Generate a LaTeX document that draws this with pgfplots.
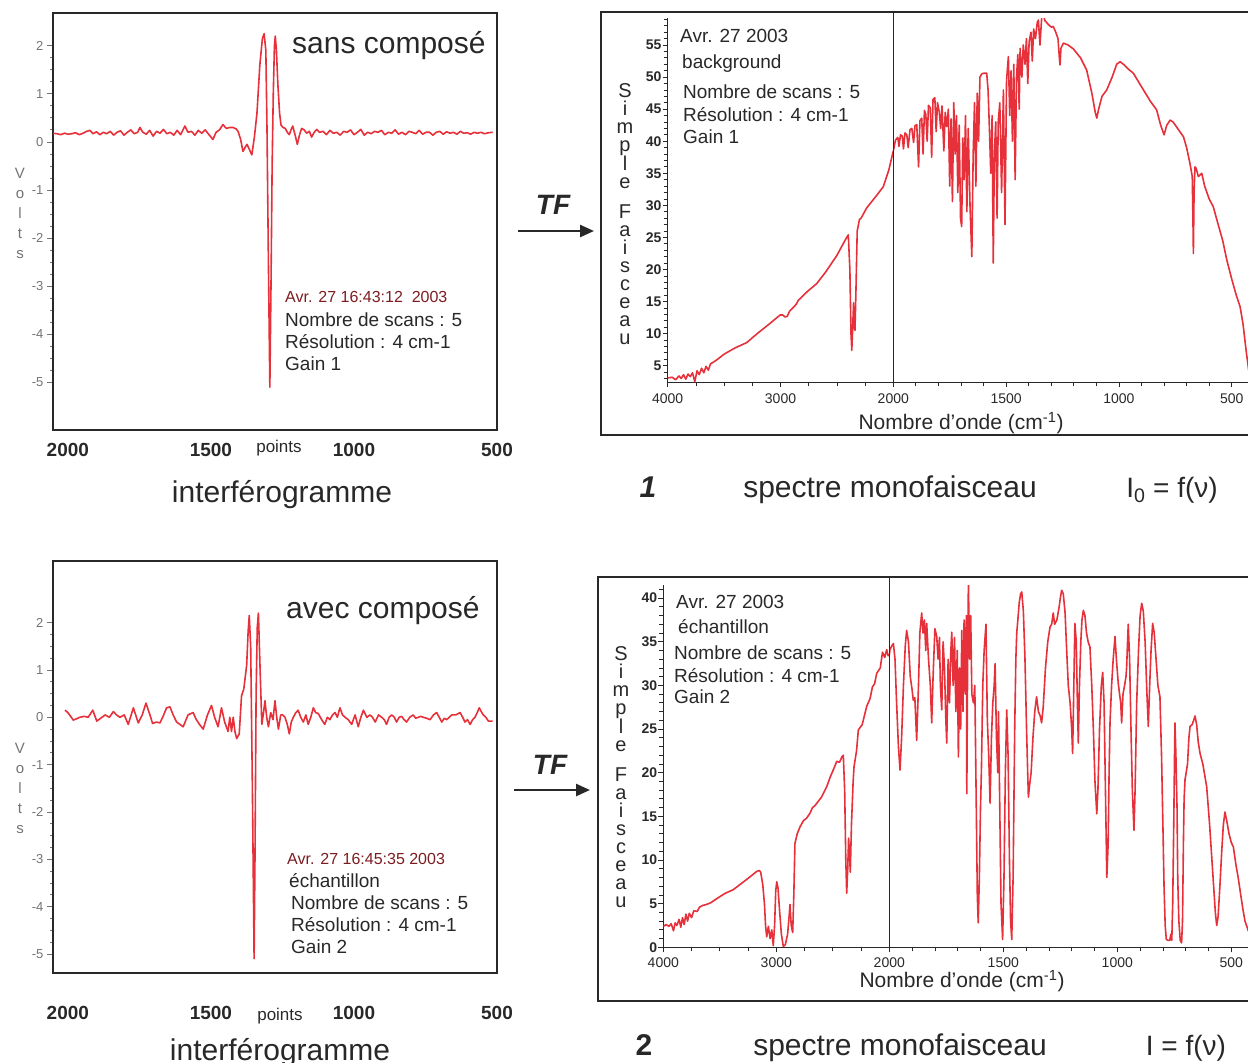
\documentclass[border=0pt]{standalone}
\usepackage{fontspec}
\setmainfont{Liberation Sans}
\usepackage{pgfplots}
\pgfplotsset{compat=1.18}
\usetikzlibrary{arrows.meta}

\definecolor{curve}{RGB}{230,48,58}
\definecolor{ink}{RGB}{40,40,40}
\definecolor{datered}{RGB}{125,28,32}
\definecolor{axgray}{RGB}{115,115,115}
\newcommand\fs[2]{\fontsize{#1}{#2}\selectfont}

\pgfplotsset{
  common/.style={scale only axis, anchor=south west, x dir=reverse, enlargelimits=false,
    /pgf/number format/1000 sep={}, /pgf/number format/assume math mode=true},
  interf/.style={common, width=444pt, xmin=500, xmax=2052,
    axis line style={line width=1.3pt, ink}, tick pos=left,
    xtick={2000,1500,1000,500}, xtick style={draw=none},
    xticklabel style={font=\bfseries\fs{19}{19}, text=ink},
    ytick={-5,...,2}, minor y tick num=3, tick align=outside,
    major tick length=6pt, minor tick length=3pt,
    y tick style={axgray, line width=0.8pt},
    yticklabel style={font=\fs{13}{13}, text=axgray}},
  spec/.style={common, axis x line=bottom, axis y line=left,
    axis line style={-, line width=1pt, ink}, tick align=outside,
    major tick length=5pt, minor tick length=4pt, tick style={ink, line width=0.8pt},
    xticklabel style={font=\fs{14}{14}, text=ink, yshift=-3pt},
    yticklabel style={font=\bfseries\fs{14}{14}, text=ink, inner sep=1pt}},
  specright/.style={spec, axis y line=none, xmin=400, xmax=2000,
    xtick={500,1000,1500}, minor xtick={400,600,700,800,900,1100,1200,1300,1400,1600,1700,1800,1900,2000}},
  specleft/.style={spec, xmin=2000, xmax=4000, xtick={2000,3000,4000},
    minor xtick={2250,2500,2750,3250,3500,3750}},
  sig/.style={curve, line width=1.6pt, line join=round}
}

\begin{document}
\begin{tikzpicture}

% ---------- interferogramme sans compose ----------
\begin{axis}[interf, at={(53pt,-430pt)}, height=417pt, ymin=-5.99, ymax=2.68,
  xticklabel style={yshift=-4pt}]
\addplot[sig] coordinates {
(2051,0.18)(2038,0.17)(2025,0.15)(2012,0.18)(1999,0.16)(1986,0.17)(1973,0.19)(1960,0.15)
(1947,0.18)(1934,0.22)(1923,0.24)(1912,0.17)(1900,0.21)(1888,0.15)(1876,0.2)(1864,0.17)
(1852,0.22)(1840,0.14)(1828,0.2)(1816,0.23)(1804,0.14)(1792,0.2)(1780,0.25)(1768,0.17)
(1756,0.2)(1748,0.3)(1738,0.2)(1726,0.16)(1714,0.24)(1702,0.12)(1690,0.22)(1678,0.18)
(1666,0.26)(1654,0.17)(1642,0.2)(1630,0.14)(1618,0.24)(1606,0.15)(1591,0.33)(1580,0.2)
(1568,0.22)(1556,0.14)(1544,0.24)(1532,0.18)(1520,0.25)(1508,0.16)(1493,0.05)(1482,0.2)
(1470,0.25)(1458,0.36)(1446,0.28)(1434,0.3)(1423,0.3)(1412,0.27)(1405,0.22)(1396,0.05)
(1388,-0.2)(1381,-0.12)(1374,-0.05)(1366,-0.15)(1357,-0.27)(1348,0.1)(1339,0.6)(1329,1.6)
(1320,2.15)(1314,2.25)(1308,1.9)(1304,0.3)(1299,-2.5)(1294,-5.1)(1290,-3.0)(1286,-0.5)
(1282,1.0)(1278,2.0)(1275,2.2)(1271,1.9)(1266,1.2)(1260,0.6)(1255,0.35)(1248,0.3)
(1240,0.28)(1233,0.2)(1226,0.15)(1220,0.25)(1214,0.33)(1206,0.15)(1198,-0.05)(1190,0.15)
(1183,0.28)(1174,0.25)(1165,0.18)(1156,0.22)(1148,0.1)(1139,0.2)(1130,0.26)(1120,0.2)
(1108,0.22)(1096,0.15)(1084,0.24)(1072,0.18)(1060,0.2)(1048,0.14)(1036,0.22)(1024,0.2)
(1012,0.25)(1000,0.15)(988,0.2)(976,0.26)(964,0.14)(952,0.2)(940,0.17)(928,0.22)
(916,0.2)(904,0.24)(892,0.15)(880,0.2)(868,0.18)(856,0.25)(844,0.16)(832,0.2)
(820,0.15)(808,0.22)(796,0.2)(784,0.17)(772,0.24)(760,0.16)(748,0.2)(736,0.2)
(724,0.14)(712,0.2)(700,0.22)(688,0.16)(676,0.21)(664,0.18)(652,0.2)(640,0.16)
(628,0.22)(616,0.18)(604,0.19)(592,0.16)(580,0.2)(568,0.18)(556,0.2)(544,0.17)
(530,0.19)(515,0.2)};
\end{axis}

% ---------- interferogramme avec compose ----------
\begin{axis}[interf, at={(53pt,-973pt)}, height=412pt, ymin=-5.40, ymax=3.30,
  xticklabel style={yshift=-24pt}]
\addplot[sig] coordinates {
(2010,0.15)(2000,0.1)(1981,-0.06)(1958,0.0)(1943,0.02)(1929,0.0)(1913,0.15)(1899,-0.08)
(1885,-0.02)(1870,0.05)(1855,0.0)(1841,0.12)(1830,0.05)(1818,0.0)(1803,0.05)(1789,-0.15)
(1771,0.2)(1754,-0.12)(1740,0.05)(1727,0.3)(1713,0.05)(1704,-0.13)(1690,-0.1)(1678,-0.12)
(1665,0.05)(1655,0.2)(1643,0.22)(1632,0.05)(1620,-0.1)(1597,-0.2)(1580,0.05)(1562,0.1)
(1551,-0.05)(1540,-0.15)(1527,-0.25)(1512,0.05)(1498,0.25)(1487,0.0)(1475,-0.2)(1463,0.2)
(1452,-0.1)(1440,-0.3)(1434,0.0)(1428,-0.3)(1422,0.0)(1416,-0.3)(1410,-0.45)(1401,-0.35)
(1393,0.45)(1385,0.6)(1375,1.1)(1370,1.8)(1366,2.15)(1361,1.5)(1355,-1.5)(1349,-5.1)
(1346,-3.0)(1342,0.5)(1338,1.9)(1334,2.2)(1328,1.0)(1322,-0.15)(1316,0.1)(1311,0.35)
(1305,0.0)(1299,-0.2)(1291,0.1)(1283,-0.05)(1276,0.35)(1270,0.0)(1264,-0.25)(1256,0.05)
(1249,0.05)(1241,0.0)(1233,-0.15)(1226,-0.35)(1219,-0.1)(1212,0.0)(1203,0.1)(1195,0.15)
(1186,0.0)(1177,-0.1)(1168,0.05)(1160,-0.15)(1151,0.0)(1142,0.2)(1134,0.1)(1125,0.08)
(1113,-0.05)(1102,-0.15)(1093,0.0)(1084,-0.05)(1075,0.05)(1066,0.1)(1058,0.0)(1049,0.2)
(1040,0.05)(1031,0.0)(1020,-0.05)(1008,-0.15)(996,0.05)(985,-0.2)(976,0.0)(967,0.15)
(955,0.0)(944,0.05)(935,0.0)(926,-0.1)(914,0.05)(903,0.0)(894,-0.05)(886,-0.15)
(877,0.0)(868,0.05)(859,0.0)(851,-0.1)(842,0.0)(833,0.02)(825,-0.05)(816,-0.1)
(805,0.0)(793,0.05)(784,-0.02)(775,0.0)(766,0.02)(758,0.0)(746,-0.02)(734,-0.05)
(722,0.05)(711,0.1)(702,0.0)(693,-0.1)(684,-0.02)(676,-0.05)(667,0.0)(658,0.05)
(644,0.05)(629,0.1)(620,0.0)(612,-0.1)(603,-0.05)(594,-0.15)(585,-0.05)(577,0.0)
(569,0.1)(562,0.2)(555,0.12)(548,0.05)(539,0.0)(530,-0.08)(515,-0.08)};
\end{axis}

% ---------- spectre 1 : background ----------
\begin{axis}[specleft, at={(667.7pt,-382pt)}, width=225.6pt, height=363.9pt,
  ymin=2.46, ymax=59.2, ytick={5,10,...,55}, minor ytick={3,4,...,59}]
\addplot[sig] coordinates {
(4000,3.1)(3960,3.2)(3930,2.8)(3900,3.4)(3880,3.0)(3860,3.6)(3840,2.9)(3820,3.7)
(3800,3.3)(3780,3.9)(3760,2.5)(3740,4.2)(3720,3.6)(3700,4.6)(3680,3.9)(3660,4.9)
(3640,4.3)(3620,5.3)(3600,5.5)(3566,5.9)(3500,6.8)(3400,7.8)(3300,8.6)(3200,10.1)
(3100,11.5)(3004,12.9)(2980,12.9)(2960,12.6)(2940,12.7)(2920,13.5)(2880,14.2)(2860,14.6)
(2842,15.2)(2760,16.6)(2679,17.8)(2600,19.6)(2500,22.2)(2420,24.8)(2399,25.4)(2385,20)
(2375,10)(2368,7.4)(2360,11)(2352,14.8)(2346,11)(2340,10.5)(2332,16)(2320,26)
(2300,27.8)(2286,28)(2236,29.6)(2150,31.5)(2089,32.9)(2040,35.5)(2000,38.5)};
\end{axis}
\begin{axis}[specright, at={(893.3pt,-382pt)}, width=361pt, height=363.9pt,
  ymin=2.46, ymax=59.2]
\addplot[sig] coordinates {
(2000,38.5)(1990,40.2)(1980,40.6)(1975,39.2)(1968,41.0)(1960,40.8)(1955,38.8)(1948,41.3)
(1940,41.0)(1934,39.0)(1926,41.8)(1918,42.0)(1910,39.8)(1904,42.4)(1896,42.6)(1888,36.0)
(1882,43.2)(1874,43.6)(1868,38.0)(1862,44.8)(1856,44.2)(1850,40.0)(1844,45.6)(1836,45.2)
(1830,37.5)(1824,46.5)(1816,46.8)(1810,41.5)(1804,46.0)(1796,44.5)(1790,42.0)(1784,45.5)
(1776,38.5)(1770,44.5)(1763,42.3)(1756,45.0)(1750,33.0)(1744,43.5)(1738,30.6)(1732,46.0)
(1726,38.0)(1720,44.0)(1714,32.0)(1708,42.5)(1702,28.0)(1697,26.7)(1692,40.5)(1686,34.0)
(1680,44.0)(1674,29.0)(1668,42.0)(1660,30.0)(1652,22.0)(1646,38.0)(1640,46.0)(1634,33.0)
(1628,47.5)(1622,40.0)(1616,50.0)(1608,50.5)(1600,50.6)(1592,50.6)(1586,50.6)(1580,48.0)
(1574,42.0)(1568,35.0)(1562,44.0)(1557,21.0)(1552,38.0)(1546,43.0)(1540,28.0)(1535,43.0)
(1528,46.0)(1520,32.0)(1512,48.0)(1505,27.0)(1498,49.5)(1490,53.2)(1484,44.0)(1478,51.0)
(1472,40.0)(1466,52.0)(1460,34.0)(1454,50.0)(1448,53.5)(1442,45.0)(1438,54.5)(1430,50.0)
(1424,55.0)(1416,52.0)(1410,56.0)(1404,49.0)(1398,55.5)(1390,57.0)(1384,52.5)(1378,57.5)
(1370,56.0)(1362,58.5)(1357,58.9)(1350,55.0)(1342,59.5)(1335,59.7)(1328,58.8)(1320,58.5)
(1313,58.2)(1300,57.8)(1291,57.9)(1280,57.0)(1270,56.0)(1264,53.0)(1261,51.9)(1257,54.5)
(1246,55.3)(1225,55.0)(1202,54.4)(1170,53.0)(1143,51.1)(1120,47.5)(1105,44.5)(1098,43.6)
(1090,45.0)(1075,47.0)(1054,48.0)(1030,50.0)(1010,52.0)(995,52.4)(980,52.0)(960,51.3)
(936,50.6)(900,48.5)(860,46.2)(833,44.9)(815,42.5)(800,41.0)(788,42.5)(773,43.3)
(760,43.0)(740,42.0)(714,40.7)(700,39.0)(685,36.5)(675,34.5)(672,28.0)(670,22.5)
(667,32.0)(663,36.0)(658,35.8)(648,34.5)(633,35.0)(620,33.0)(600,31.0)(582,29.8)
(560,27.0)(540,24.5)(522,21.5)(500,18.5)(480,16.0)(463,14.2)(450,11.5)(435,7.0)
(420,3.0)(405,1.0)};
\end{axis}

% ---------- spectre 2 : echantillon ----------
\begin{axis}[specleft, at={(663.3pt,-947.3pt)}, width=226pt, height=362.3pt,
  ymin=0, ymax=41.5, ytick={0,5,...,40}, minor ytick={1,2,...,41},
  xticklabel style={yshift=1pt}]
\addplot[sig] coordinates {
(4000,2.4)(3975,2.6)(3950,2.4)(3930,2.7)(3910,1.9)(3895,2.8)(3880,2.5)(3860,3.2)
(3845,2.3)(3830,3.4)(3815,2.6)(3800,3.8)(3785,3.0)(3770,3.9)(3750,3.4)(3730,4.2)
(3700,4.1)(3680,4.6)(3650,4.8)(3620,4.9)(3580,5.1)(3558,5.3)(3500,5.8)(3450,6.2)
(3381,6.6)(3300,7.4)(3230,8.1)(3173,8.7)(3150,8.8)(3138,8.6)(3120,7.2)(3105,5.0)
(3095,2.5)(3085,1.2)(3070,2.4)(3055,1.0)(3040,2.0)(3027,0.2)(3015,2.5)(3005,6.5)
(2996,7.5)(2985,6.8)(2970,4.0)(2955,1.5)(2938,0.1)(2920,0.3)(2900,1.5)(2885,3.8)
(2879,4.9)(2868,2.5)(2855,1.7)(2845,6.0)(2835,11.9)(2815,13.0)(2790,13.8)(2760,14.5)
(2731,14.8)(2700,15.4)(2680,16.0)(2660,16.2)(2642,16.5)(2600,17.2)(2554,18.4)(2520,19.6)
(2490,20.5)(2465,21.3)(2440,21.2)(2420,21.8)(2407,22.0)(2395,18.0)(2385,10.0)(2377,6.2)
(2368,9.0)(2360,12.5)(2352,10.5)(2345,8.6)(2335,14.0)(2320,19.0)(2312,20.7)(2290,22.5)
(2274,24.9)(2240,25.5)(2200,27.6)(2170,28.5)(2150,29.8)(2130,30.2)(2111,31.4)(2080,32.0)
(2060,33.8)(2040,33.2)(2023,34.1)(2010,33.4)(2000,33.5)};
\end{axis}
\begin{axis}[specright, at={(889.3pt,-947.3pt)}, width=364.8pt, height=362.3pt,
  ymin=0, ymax=41.5, xticklabel style={yshift=1pt}]
\addplot[sig] coordinates {
(2000,33.5)(1997,34.1)(1990,34.5)(1982,34.8)(1975,33.0)(1968,28.0)(1960,23.0)(1953,20.3)
(1946,24.0)(1938,30.0)(1930,34.5)(1924,36.3)(1916,35.0)(1908,31.0)(1900,29.5)(1895,28.3)
(1888,28.6)(1880,23.7)(1872,30.0)(1866,36.0)(1858,38.3)(1852,36.0)(1846,37.5)(1840,34.0)
(1836,37.1)(1828,33.0)(1820,30.0)(1814,25.7)(1808,31.0)(1800,36.5)(1792,35.6)(1786,33.0)
(1780,35.5)(1776,30.0)(1770,27.2)(1764,35.0)(1758,32.0)(1752,26.0)(1748,23.4)(1742,33.0)
(1736,28.0)(1730,34.0)(1726,36.1)(1720,30.0)(1714,35.5)(1708,27.0)(1702,34.0)(1697,21.8)
(1692,32.0)(1687,25.0)(1682,36.3)(1677,27.0)(1672,37.5)(1667,29.0)(1662,38.0)(1660,17.6)
(1656,35.0)(1653,41.7)(1648,33.0)(1643,38.0)(1638,29.0)(1631,28.0)(1625,30.0)(1618,15.0)
(1614,6.0)(1610,2.8)(1605,8.0)(1600,16.0)(1596,20.3)(1590,30.0)(1584,34.0)(1576,37.0)
(1570,26.0)(1564,22.0)(1558,16.5)(1552,24.0)(1546,28.0)(1540,30.0)(1536,32.5)(1530,24.0)
(1524,20.0)(1521,27.0)(1515,15.0)(1510,5.0)(1503,0.9)(1497,8.0)(1491,20.0)(1485,27.2)
(1479,22.0)(1473,10.0)(1468,3.0)(1463,0.9)(1457,8.0)(1450,25.0)(1445,33.0)(1441,36.0)
(1430,39.5)(1424,40.5)(1419,40.7)(1412,38.5)(1405,33.1)(1398,25.0)(1393,20.0)(1390,17.2)
(1385,18.5)(1378,20.0)(1370,24.0)(1362,27.0)(1354,28.7)(1346,27.0)(1338,26.5)(1332,25.7)
(1325,27.5)(1315,32.0)(1305,35.0)(1295,36.7)(1288,37.0)(1281,38.3)(1275,37.0)(1265,37.5)
(1255,39.0)(1250,40.0)(1244,40.9)(1237,40.5)(1229,38.3)(1222,34.0)(1215,30.0)(1207,28.0)
(1200,25.0)(1196,22.2)(1192,28.0)(1186,37.1)(1180,35.0)(1175,28.0)(1171,23.4)(1166,30.0)
(1160,35.0)(1155,37.5)(1149,38.6)(1142,38.0)(1135,36.0)(1128,35.0)(1120,34.4)(1112,30.0)
(1105,25.0)(1098,19.0)(1090,15.3)(1085,18.0)(1078,25.0)(1070,30.0)(1064,31.5)(1058,28.0)
(1052,18.0)(1046,8.0)(1040,12.0)(1036,20.0)(1032,25.7)(1025,30.0)(1018,33.0)(1010,35.6)
(1004,33.0)(996,30.3)(990,29.0)(985,28.0)(981,25.7)(975,29.0)(968,30.0)(962,31.0)
(959,32.1)(955,35.0)(952,37.0)(946,33.0)(940,25.0)(934,18.0)(927,13.4)(922,18.0)
(915,28.0)(907,34.0)(900,38.0)(893,39.4)(886,38.5)(878,35.0)(870,29.0)(864,25.3)
(858,30.0)(852,34.0)(845,37.1)(838,36.0)(830,33.0)(822,30.0)(813,28.7)(806,22.0)
(800,14.0)(795,7.0)(790,2.5)(785,0.9)(778,0.8)(770,0.8)(765,1.5)(761,0.8)
(757,5.0)(752,15.0)(749,22.0)(747,25.7)(743,22.0)(738,16.0)(735,8.0)(730,3.0)
(724,0.8)(718,0.5)(714,3.0)(710,12.0)(707,17.0)(703,19.2)(698,20.0)(692,21.0)
(686,24.0)(681,25.3)(672,25.5)(665,26.0)(659,26.5)(652,25.5)(645,23.5)(637,22.2)
(625,21.0)(608,18.4)(595,14.0)(585,10.0)(575,6.0)(570,4.0)(564,2.5)(558,3.5)
(550,7.0)(542,11.0)(535,14.0)(528,15.5)(520,14.5)(510,13.0)(500,12.0)(491,11.5)
(480,9.5)(470,8.0)(462,6.6)(450,4.5)(440,3.0)(432,2.4)(420,1.5)(405,1.0)};
\end{axis}

% ---------- frames, separators, texts ----------
\draw[ink, line width=1.5pt] (601pt,-12pt) rectangle (1262pt,-435pt);
\draw[ink, line width=1.5pt] (598pt,-577pt) rectangle (1262pt,-1001pt);
\draw[ink, line width=0.9pt] (893.3pt,-12pt) -- (893.3pt,-382pt);
\draw[ink, line width=0.9pt] (889.3pt,-577pt) -- (889.3pt,-947.3pt);

\begin{scope}[every node/.style={text=ink, inner sep=0pt}]
% interferograms
\node[anchor=base west, font=\fs{30}{30}] at (292pt,-53pt) {sans composé};
\node[anchor=base west, font=\fs{16}{16}, text=datered] at (285pt,-302pt) {Avr. 27 16:43:12\ \ 2003};
\node[anchor=base west, font=\fs{19}{19}] at (285pt,-326pt) {Nombre de scans : 5};
\node[anchor=base west, font=\fs{19}{19}] at (285pt,-348pt) {Résolution : 4 cm-1};
\node[anchor=base west, font=\fs{19}{19}] at (285pt,-370pt) {Gain 1};
\node[font=\fs{17}{17}] at (279pt,-448pt) {points};
\node[anchor=base, font=\fs{30}{30}] at (282pt,-502pt) {interférogramme};
\node[align=center, font=\fs{15}{20}, text=axgray] at (20pt,-213pt) {V\\o\\l\\t\\s};

\node[anchor=base west, font=\fs{30}{30}] at (286pt,-618pt) {avec composé};
\node[anchor=base west, font=\fs{16}{16}, text=datered] at (287pt,-864pt) {Avr. 27 16:45:35 2003};
\node[anchor=base west, font=\fs{19}{19}] at (289pt,-887pt) {échantillon};
\node[anchor=base west, font=\fs{19}{19}] at (291pt,-909pt) {Nombre de scans : 5};
\node[anchor=base west, font=\fs{19}{19}] at (291pt,-931pt) {Résolution : 4 cm-1};
\node[anchor=base west, font=\fs{19}{19}] at (291pt,-953pt) {Gain 2};
\node[font=\fs{17}{17}] at (280pt,-1016pt) {points};
\node[anchor=base, font=\fs{30}{30}] at (280pt,-1060pt) {interférogramme};
\node[align=center, font=\fs{15}{20}, text=axgray] at (20pt,-788pt) {V\\o\\l\\t\\s};

% TF arrows
\node[font=\bfseries\itshape\fs{28}{28}] at (553pt,-205pt) {TF};
\draw[-{Triangle[length=14pt,width=12pt]}, line width=2.4pt, ink] (518pt,-231pt) -- (594pt,-231pt);
\node[font=\bfseries\itshape\fs{28}{28}] at (550pt,-765pt) {TF};
\draw[-{Triangle[length=14pt,width=12pt]}, line width=2.4pt, ink] (514pt,-790pt) -- (590pt,-790pt);

% spectrum 1 texts
\node[anchor=base west, font=\fs{19}{19}] at (680pt,-42pt) {Avr. 27 2003};
\node[anchor=base west, font=\fs{19}{19}] at (682pt,-68pt) {background};
\node[anchor=base west, font=\fs{19}{19}] at (683pt,-98pt) {Nombre de scans : 5};
\node[anchor=base west, font=\fs{19}{19}] at (683pt,-121pt) {Résolution : 4 cm-1};
\node[anchor=base west, font=\fs{19}{19}] at (683pt,-143pt) {Gain 1};
\node[align=center, font=\fs{20}{18}] at (625pt,-214pt) {S\\i\\m\\p\\l\\e\\[12pt]F\\a\\i\\s\\c\\e\\a\\u};
\node[font=\fs{21}{21}] at (961pt,-423pt) {Nombre d'onde (cm\textsuperscript{-1})};
\node[anchor=base, font=\bfseries\itshape\fs{30}{30}] at (648pt,-497pt) {1};
\node[anchor=base, font=\fs{30}{30}] at (890pt,-497pt) {spectre monofaisceau};
\node[anchor=base, font=\fs{28}{28}] at (1172pt,-497pt) {I\textsubscript{0} = f(ν)};

% spectrum 2 texts
\node[anchor=base west, font=\fs{19}{19}] at (676pt,-608pt) {Avr. 27 2003};
\node[anchor=base west, font=\fs{19}{19}] at (678pt,-633pt) {échantillon};
\node[anchor=base west, font=\fs{19}{19}] at (674pt,-659pt) {Nombre de scans : 5};
\node[anchor=base west, font=\fs{19}{19}] at (674pt,-682pt) {Résolution : 4 cm-1};
\node[anchor=base west, font=\fs{19}{19}] at (674pt,-703pt) {Gain 2};
\node[align=center, font=\fs{20}{18}] at (621pt,-777pt) {S\\i\\m\\p\\l\\e\\[12pt]F\\a\\i\\s\\c\\e\\a\\u};
\node[font=\fs{21}{21}] at (962pt,-981pt) {Nombre d'onde (cm\textsuperscript{-1})};
\node[anchor=base, font=\bfseries\fs{30}{30}] at (644pt,-1055pt) {2};
\node[anchor=base, font=\fs{30}{30}] at (900pt,-1055pt) {spectre monofaisceau};
\node[anchor=base, font=\fs{28}{28}] at (1186pt,-1055pt) {I = f(ν)};
\end{scope}

\pgfresetboundingbox
\path[use as bounding box] (0pt,0pt) rectangle (1248pt,-1063pt);
\end{tikzpicture}
\end{document}
